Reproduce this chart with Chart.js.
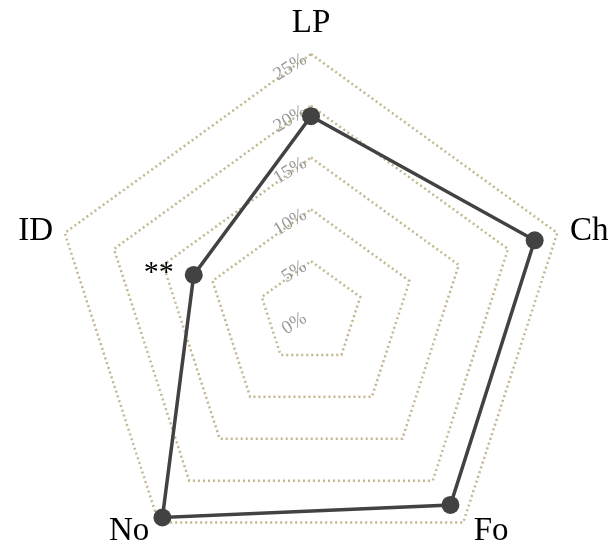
<!DOCTYPE html>
<html>
<head>
<meta charset="utf-8">
<script src="https://cdn.jsdelivr.net/npm/chart.js@4"></script>
<style>
  html, body { margin: 0; padding: 0; background: #fff; }
  #wrap { width: 614px; height: 551px; position: relative; }
</style>
</head>
<body>
<div id="wrap"><canvas id="radar"></canvas></div>
<script>
const categories = ['LP', 'Ch', 'Fo', 'No', 'ID'];
const shares = [19, 22.7, 22.9, 24.4, 11.9];
const notes = ['', '', '', '', '**'];
const scaleMax = 25;
const scaleStep = 5;

const serif = '"Liberation Serif", "Times New Roman", serif';

// tick labels sit tilted next to each ring's top corner, under the line
// axis names and the ** mark go on top
const radarText = {
    id: 'radarText',
    beforeDatasetsDraw(chart) {
        const r = chart.scales.r;
        const ctx = chart.ctx;
        ctx.save();
        ctx.font = '19px ' + serif;
        ctx.fillStyle = '#9a9a9a';
        ctx.textAlign = 'right';
        ctx.textBaseline = 'middle';
        r.ticks.forEach(t => {
            const d = r.getDistanceFromCenterForValue(t.value);
            ctx.save();
            ctx.translate(r.xCenter - 6, r.yCenter - d + 4);
            ctx.rotate(-32 * Math.PI / 180);
            ctx.fillText(t.value + '%', 0, 0);
            ctx.restore();
        });
        ctx.restore();
    },
    afterDraw(chart) {
        const r = chart.scales.r;
        const ctx = chart.ctx;
        ctx.save();
        ctx.fillStyle = '#000';
        ctx.font = '33px ' + serif;
        ctx.textBaseline = 'middle';
        categories.forEach((name, i) => {
            const p = r.getPointPosition(i, r.drawingArea + 6);
            const dx = p.x - r.xCenter;
            const dy = p.y - r.yCenter;
            let align = Math.abs(dx) < 1 ? 'center' : (dx > 0 ? 'left' : 'right');
            let x = p.x + (align === 'left' ? 7 : align === 'right' ? -6 : 0);
            let y = p.y + (dy < -200 ? -25 : dy > 0 ? 4 : 0);
            ctx.textAlign = align;
            ctx.fillText(name, x, y);
        });

        const pts = chart.getDatasetMeta(0).data;
        ctx.font = '30px ' + serif;
        ctx.textAlign = 'right';
        ctx.textBaseline = 'alphabetic';
        notes.forEach((n, i) => {
            if (!n) return;
            ctx.fillText(n, pts[i].x - 20, pts[i].y + 6);
        });
        ctx.restore();
    }
};

const chart = new Chart(
    document.getElementById('radar'),
    {
        type: 'radar',
        data: {
            labels: categories,
            datasets: [
                {
                    data: shares,
                    fill: false,
                    borderColor: '#424242',
                    borderWidth: 3.5,
                    pointRadius: 9,
                    pointBackgroundColor: '#424242',
                    pointBorderWidth: 0
                }
            ]
        },
        options: {
            responsive: true,
            maintainAspectRatio: false,
            animation: false,
            layout: {
                padding: { left: 52, right: 44, top: 54, bottom: 0 }
            },
            plugins: {
                legend: { display: false },
                tooltip: { enabled: false }
            },
            scales: {
                r: {
                    min: 0,
                    max: scaleMax,
                    ticks: { stepSize: scaleStep, display: false },
                    angleLines: { display: false },
                    pointLabels: { display: false },
                    grid: { color: '#c2b78e', lineWidth: 2.5 },
                    border: { dash: [2, 3] },
                    // the pentagon runs a little past the bottom edge, like the original
                    afterFit(scale) {
                        scale.yCenter += 11;
                        scale.drawingArea += 11;
                    }
                }
            }
        },
        plugins: [radarText]
    }
);
</script>
</body>
</html>
